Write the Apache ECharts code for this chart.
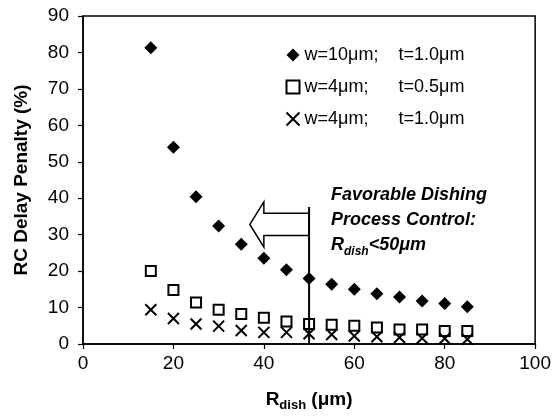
<!DOCTYPE html>
<html>
<head>
<meta charset="utf-8">
<script src="https://cdn.jsdelivr.net/npm/echarts@6/dist/echarts.min.js"></script>
<style>
	html, body { margin: 0; padding: 0; background: #fff; }
	#chart { width: 554px; height: 417px; }
</style>
</head>
<body>
<div id="chart"></div>
<script>
/*
 * 数据
 */
var rDish = [15, 20, 25, 30, 35, 40, 45, 50, 55, 60, 65, 70, 75, 80, 85];
var w10t10 = [81.3, 54, 40.4, 32.4, 27.4, 23.5, 20.4, 18, 16.4, 15, 13.8, 12.9, 11.8, 11.1, 10.2];
var w4t05 = [20, 14.8, 11.4, 9.4, 8.2, 7.2, 6.2, 5.5, 5.3, 5.0, 4.5, 4.0, 4.0, 3.6, 3.6];
var w4t10 = [9.4, 7.0, 5.5, 4.9, 3.7, 3.2, 3.2, 2.8, 2.6, 2.2, 2.0, 1.8, 1.6, 1.5, 1.3];
var seriesNames = ['w=10μm; t=1.0μm', 'w=4μm; t=0.5μm', 'w=4μm; t=1.0μm'];

// 注释：x=50 竖线 与 左向箭头 (数据坐标)
var limitX = 50;
var limitLine = [37.6, 0];
var arrowX = [50, 40, 40, 36.9, 40, 40, 50];
var arrowY = [35.9, 35.9, 39, 32.8, 26.6, 29.8, 29.8];

var FONT = 'Liberation Sans, Arial, sans-serif';
var crossPath = 'path://M0,0 L10,10 M10,0 L0,10';

function toPoints(api, xs, ys) {
	var pts = [];
	for (var i = 0; i < xs.length; i++) {
		pts.push(api.coord([xs[i], ys[i]]));
	}
	return pts;
}

var chart = echarts.init(document.getElementById('chart'));
var option = {
	animation: false,
	backgroundColor: '#fff',
	textStyle: { fontFamily: FONT },
	grid: {
		left: 83, top: 16, right: 18, bottom: 71,
		show: true, borderColor: '#000', borderWidth: 1.5
	},
	legend: {
		orient: 'vertical',
		left: 279, top: 41,
		itemWidth: 13, itemHeight: 13, itemGap: 14,
		data: seriesNames,
		formatter: function(name) {
			var parts = name.split('; ');
			return '{a|' + parts[0] + ';}{b|' + parts[1] + '}';
		},
		textStyle: {
			fontFamily: FONT, fontSize: 18, color: '#000',
			rich: {
				a: { fontFamily: FONT, fontSize: 18, width: 94, color: '#000' },
				b: { fontFamily: FONT, fontSize: 18, color: '#000' }
			}
		}
	},
	xAxis: {
		type: 'value', min: 0, max: 100, interval: 20,
		name: '{r|R}{s|dish}{r| (μm)}',
		nameLocation: 'middle', nameGap: 46,
		nameTextStyle: {
			rich: {
				r: { fontFamily: FONT, fontSize: 19, fontWeight: 'bold', color: '#000', verticalAlign: 'bottom' },
				s: { fontFamily: FONT, fontSize: 13, fontWeight: 'bold', color: '#000', verticalAlign: 'bottom', padding: [0, 0, -3, 0] }
			}
		},
		axisLine: { lineStyle: { color: '#000', width: 1.5 } },
		axisTick: { inside: false, length: 5, lineStyle: { color: '#000', width: 1.2 } },
		axisLabel: { fontFamily: FONT, fontSize: 19, color: '#000', margin: 10 },
		splitLine: { show: false }
	},
	yAxis: {
		type: 'value', min: 0, max: 90, interval: 10,
		name: 'RC Delay Penalty (%)',
		nameLocation: 'middle', nameGap: 52,
		nameTextStyle: { fontFamily: FONT, fontSize: 19, fontWeight: 'bold', color: '#000' },
		axisLine: { lineStyle: { color: '#000', width: 1.5 } },
		axisTick: { inside: false, length: 5, lineStyle: { color: '#000', width: 1.2 } },
		axisLabel: { fontFamily: FONT, fontSize: 19, color: '#000', margin: 14 },
		splitLine: { show: false }
	},
	graphic: [{
		type: 'text',
		left: 331, top: 186,
		style: {
			text: '{t|Favorable Dishing}\n{t|Process Control:}\n{t|R}{s|dish}{t|<50μm}',
			rich: {
				t: { fontFamily: FONT, fontSize: 18, fontWeight: 'bold', fontStyle: 'italic', fill: '#000', lineHeight: 25, verticalAlign: 'bottom' },
				s: { fontFamily: FONT, fontSize: 12, fontWeight: 'bold', fontStyle: 'italic', fill: '#000', lineHeight: 25, verticalAlign: 'bottom', padding: [0, 0, -4, 0] }
			}
		}
	}],
	series: [
		{
			name: seriesNames[0], type: 'scatter',
			symbol: 'diamond', symbolSize: 13,
			itemStyle: { color: '#000', opacity: 1 },
			data: rDish.map(function(x, i) { return [x, w10t10[i]]; }),
			z: 3
		},
		{
			name: seriesNames[1], type: 'scatter',
			symbol: 'rect', symbolSize: 10,
			itemStyle: { color: '#fff', borderColor: '#000', borderWidth: 2, opacity: 1 },
			data: rDish.map(function(x, i) { return [x, w4t05[i]]; }),
			z: 3
		},
		{
			name: seriesNames[2], type: 'scatter',
			symbol: crossPath, symbolSize: 11,
			itemStyle: { color: 'none', borderColor: '#000', borderWidth: 2, opacity: 1 },
			data: rDish.map(function(x, i) { return [x, w4t10[i]]; }),
			z: 4
		},
		{
			type: 'custom',
			silent: true,
			data: [0],
			z: 5,
			renderItem: function(params, api) {
				var top = api.coord([limitX, limitLine[0]]);
				var bottom = api.coord([limitX, limitLine[1]]);
				return {
					type: 'group',
					children: [
						{
							type: 'polygon',
							shape: { points: toPoints(api, arrowX, arrowY) },
							style: { fill: '#fff', stroke: '#000', lineWidth: 1.5 }
						},
						{
							type: 'line',
							shape: { x1: top[0], y1: top[1], x2: bottom[0], y2: bottom[1] },
							style: { stroke: '#000', lineWidth: 2 }
						}
					]
				};
			}
		}
	]
};
chart.setOption(option);
</script>
</body>
</html>
